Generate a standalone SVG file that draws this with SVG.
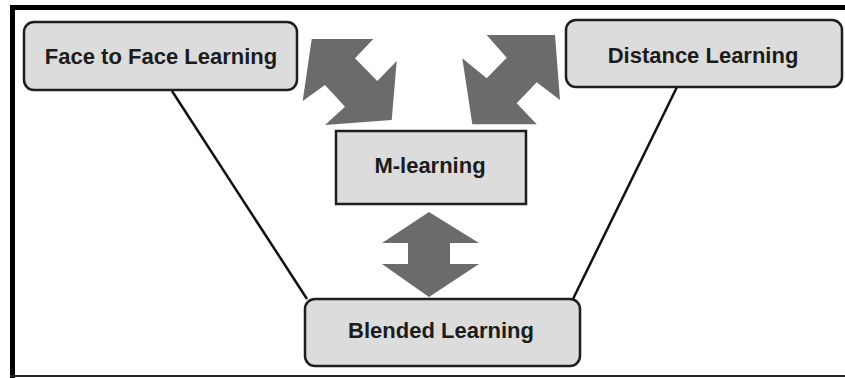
<svg xmlns="http://www.w3.org/2000/svg" width="845" height="378" viewBox="0 0 845 378">
<style>
.box{fill:#dcdcdc;stroke:#1e1e1e;stroke-width:2.5}
.lbl{font-family:"Liberation Sans",Arial,sans-serif;font-weight:bold;font-size:22px;fill:#1c1c1c;text-anchor:middle}
.conn{stroke:#111;stroke-width:2.5;fill:none}
.arr{fill:#6b6b6b}
</style>
<rect x="0" y="0" width="845" height="378" fill="#fff"/>
<g id="frame">
<rect x="10" y="5" width="835" height="5" fill="#000"/>
<rect x="10" y="5" width="5" height="373" fill="#000"/>
<rect x="10" y="375" width="835" height="2" fill="#222"/>
</g>
<g id="connectors">
<line class="conn" x1="172" y1="91" x2="307" y2="299"/>
<line class="conn" x1="677" y1="87" x2="573" y2="299"/>
<polygon class="arr" points="311.7,39 373.3,39 355,58.3 377.3,81 396.7,61 391.7,120 325,125 345,106.7 325,85 302.7,101"/>
<polygon class="arr" points="486.7,35 555,35 560,100 536.7,82.3 516.7,103.3 536.7,124.3 472.3,124.3 462.3,58.3 486.7,78.3 506.7,57.7"/>
<polygon class="arr" points="429,212 479,243 450,243 450,264 479,264 429,297 382,264 408,264 408,243 382,243"/>
</g>
<g id="face">
<rect class="box" x="24" y="22" width="273" height="68" rx="10"/>
<text class="lbl" x="161" y="64">Face to Face Learning</text>
</g>
<g id="distance">
<rect class="box" x="566" y="20" width="276" height="67" rx="10"/>
<text class="lbl" x="703" y="63">Distance Learning</text>
</g>
<g id="mlearning">
<rect class="box" x="336" y="131" width="190" height="73"/>
<text class="lbl" x="430" y="173">M-learning</text>
</g>
<g id="blended">
<rect class="box" x="305" y="299" width="275" height="67" rx="10"/>
<text class="lbl" x="441" y="338">Blended Learning</text>
</g>
</svg>
